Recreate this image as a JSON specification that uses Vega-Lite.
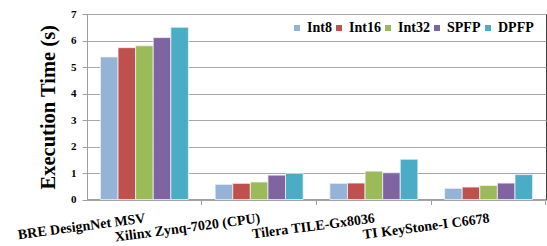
{
  "$schema": "https://vega.github.io/schema/vega-lite/v6.json",
  "width": 459,
  "height": 185.5,
  "autosize": {"type": "none"},
  "padding": {"left": 87, "top": 14, "right": 1, "bottom": 46.5},
  "background": "white",
  "config": {
    "font": "Liberation Serif",
    "view": {"stroke": "#404040", "strokeWidth": 1}
  },
  "data": {
    "values": [
      {"platform": "BRE DesignNet MSV", "type": "Int8", "time": 5.38},
      {"platform": "BRE DesignNet MSV", "type": "Int16", "time": 5.73},
      {"platform": "BRE DesignNet MSV", "type": "Int32", "time": 5.80},
      {"platform": "BRE DesignNet MSV", "type": "SPFP", "time": 6.11},
      {"platform": "BRE DesignNet MSV", "type": "DPFP", "time": 6.50},
      {"platform": "Xilinx Zynq-7020 (CPU)", "type": "Int8", "time": 0.57},
      {"platform": "Xilinx Zynq-7020 (CPU)", "type": "Int16", "time": 0.61},
      {"platform": "Xilinx Zynq-7020 (CPU)", "type": "Int32", "time": 0.66},
      {"platform": "Xilinx Zynq-7020 (CPU)", "type": "SPFP", "time": 0.92},
      {"platform": "Xilinx Zynq-7020 (CPU)", "type": "DPFP", "time": 0.99},
      {"platform": "Tilera TILE-Gx8036", "type": "Int8", "time": 0.61},
      {"platform": "Tilera TILE-Gx8036", "type": "Int16", "time": 0.62},
      {"platform": "Tilera TILE-Gx8036", "type": "Int32", "time": 1.07},
      {"platform": "Tilera TILE-Gx8036", "type": "SPFP", "time": 1.01},
      {"platform": "Tilera TILE-Gx8036", "type": "DPFP", "time": 1.52},
      {"platform": "TI KeyStone-I C6678", "type": "Int8", "time": 0.42},
      {"platform": "TI KeyStone-I C6678", "type": "Int16", "time": 0.47},
      {"platform": "TI KeyStone-I C6678", "type": "Int32", "time": 0.53},
      {"platform": "TI KeyStone-I C6678", "type": "SPFP", "time": 0.62},
      {"platform": "TI KeyStone-I C6678", "type": "DPFP", "time": 0.94}
    ]
  },
  "mark": {"type": "bar", "stroke": "#eef2f5", "strokeWidth": 0.8},
  "encoding": {
    "x": {
      "field": "platform",
      "type": "nominal",
      "sort": null,
      "scale": {"paddingInner": 0.233, "paddingOuter": 0.117},
      "axis": {
        "title": null,
        "bandPosition": 1.152,
        "labelAngle": -7.5,
        "labelAlign": "right",
        "labelBaseline": "top",
        "labelFont": "Liberation Serif",
        "labelFontWeight": "bold",
        "labelFontSize": 14,
        "labelColor": "#000000",
        "labelPadding": 6.5,
        "labelOverlap": false,
        "labelBound": false,
        "tickSize": 5,
        "tickColor": "#a0a0a0",
        "domainColor": "#a0a0a0",
        "grid": false
      }
    },
    "xOffset": {
      "field": "type",
      "type": "nominal",
      "sort": ["Int8", "Int16", "Int32", "SPFP", "DPFP"],
      "scale": {"paddingInner": 0, "paddingOuter": 0}
    },
    "y": {
      "field": "time",
      "type": "quantitative",
      "scale": {"domain": [0, 7], "nice": false},
      "axis": {
        "title": "Execution Time (s)",
        "titleFont": "Liberation Serif",
        "titleFontWeight": "bold",
        "titleFontSize": 20.5,
        "titleColor": "#000000",
        "titlePadding": 12,
        "values": [0, 1, 2, 3, 4, 5, 6, 7],
        "labelOverlap": false,
        "labelFont": "Liberation Serif",
        "labelFontWeight": "bold",
        "labelFontSize": 11,
        "labelColor": "#000000",
        "labelPadding": 6,
        "tickSize": 5,
        "tickColor": "#a0a0a0",
        "domainColor": "#a0a0a0",
        "gridColor": "#a8a8a8",
        "gridWidth": 1
      }
    },
    "color": {
      "field": "type",
      "type": "nominal",
      "sort": ["Int8", "Int16", "Int32", "SPFP", "DPFP"],
      "scale": {
        "domain": ["Int8", "Int16", "Int32", "SPFP", "DPFP"],
        "range": ["#95B3D7", "#C0504D", "#9BBB59", "#8064A2", "#4BACC6"]
      },
      "legend": {
        "title": null,
        "orient": "none",
        "legendX": 201,
        "legendY": 5,
        "direction": "horizontal",
        "symbolType": "square",
        "symbolSize": 36,
        "symbolStrokeWidth": 0,
        "labelFont": "Liberation Serif",
        "labelFontWeight": "bold",
        "labelFontSize": 14,
        "labelColor": "#000000",
        "labelOffset": 3,
        "columnPadding": 0,
        "padding": 2
      }
    }
  }
}
